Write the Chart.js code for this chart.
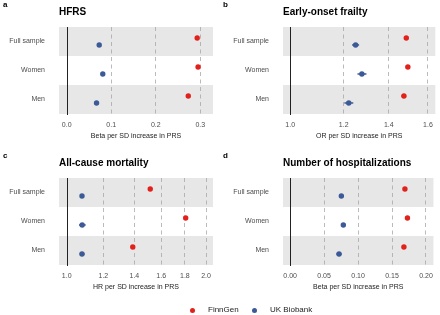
<!DOCTYPE html>
<html>
<head>
<meta charset="utf-8">
<script src="https://cdn.jsdelivr.net/npm/chart.js@4/dist/chart.umd.min.js"></script>
<style>
  body { margin: 0; width: 440px; height: 315px; background: #fff; position: relative; overflow: hidden;
         font-family: "Liberation Sans", Arial, sans-serif; }
  .panel { position: absolute; width: 220px; height: 151px; }
  #legend { position: absolute; left: 0; top: 0; width: 440px; height: 315px; will-change: transform; }
  .dot { position: absolute; width: 5px; height: 5px; border-radius: 50%; }
  .lbl { position: absolute; font-size: 8px; line-height: 10px; color: #222; }
</style>
</head>
<body>
<canvas id="panel-a" class="panel" width="220" height="151" style="left:0;top:0"></canvas>
<canvas id="panel-b" class="panel" width="220" height="151" style="left:220px;top:0"></canvas>
<canvas id="panel-c" class="panel" width="220" height="151" style="left:0;top:151px"></canvas>
<canvas id="panel-d" class="panel" width="220" height="151" style="left:220px;top:151px"></canvas>

<!-- 범례 -->
<div id="legend">
  <div class="dot" style="left:190px;top:307.5px;background:#e3211c"></div>
  <div class="lbl" style="left:208px;top:305px">FinnGen</div>
  <div class="dot" style="left:251.5px;top:307.5px;background:#3b5a97"></div>
  <div class="lbl" style="left:270px;top:305px">UK Biobank</div>
</div>

<script>
// 공통 데이터 ####################################################
const rows = ["Full sample", "Women", "Men"];

// a. HFRS
const hfrsFinn = [0.293, 0.295, 0.273];
const hfrsFinnLo = [0.289, 0.291, 0.269];
const hfrsFinnHi = [0.297, 0.299, 0.277];
const hfrsUkb = [0.073, 0.081, 0.067];
const hfrsUkbLo = [0.070, 0.078, 0.064];
const hfrsUkbHi = [0.076, 0.084, 0.070];
const hfrsTicks = [0, 0.1, 0.2, 0.3];

// b. Early-onset frailty
const frailFinn = [1.486, 1.494, 1.474];
const frailFinnLo = [1.475, 1.483, 1.462];
const frailFinnHi = [1.497, 1.505, 1.486];
const frailUkb = [1.25, 1.277, 1.221];
const frailUkbLo = [1.235, 1.258, 1.203];
const frailUkbHi = [1.265, 1.297, 1.24];
const frailTicks = [1.0, 1.2, 1.4, 1.6];

// c. All-cause mortality
const mortFinn = [1.515, 1.807, 1.389];
const mortFinnLo = [1.505, 1.795, 1.38];
const mortFinnHi = [1.525, 1.819, 1.398];
const mortUkb = [1.079, 1.08, 1.079];
const mortUkbLo = [1.073, 1.063, 1.066];
const mortUkbHi = [1.086, 1.099, 1.093];
const mortTicks = [1.0, 1.2, 1.4, 1.6, 1.8, 2.0];

// d. Number of hospitalizations
const hospFinn = [0.169, 0.1727, 0.1675];
const hospFinnLo = [0.166, 0.1697, 0.1645];
const hospFinnHi = [0.172, 0.1757, 0.1705];
const hospUkb = [0.0754, 0.0783, 0.072];
const hospUkbLo = [0.0724, 0.0753, 0.068];
const hospUkbHi = [0.0784, 0.0813, 0.076];
const hospTicks = [0, 0.05, 0.1, 0.15, 0.2];

const RED = "#e3211c";
const BLUE = "#3b5a97";
const BAND = "#e7e7e7";
const FONT = "'Liberation Sans', Arial, sans-serif";
const DODGE = 0.12; // 같은 행 안에서 두 코호트 간격

// 배경 띠, 제목, 기준선, 오차막대 ####################################
const panelPlugin = {
  id: "panel",
  beforeDraw(chart, args, opts) {
    const { ctx, chartArea } = chart;
    const ys = chart.scales.y;
    ctx.save();
    ctx.fillStyle = BAND;
    [0, 2].forEach((i) => {
      const top = ys.getPixelForValue(i - 0.5);
      const bottom = ys.getPixelForValue(i + 0.5);
      ctx.fillRect(chartArea.left, top, chartArea.right - chartArea.left, bottom - top);
    });
    ctx.fillStyle = "#000";
    ctx.textBaseline = "middle";
    ctx.textAlign = "left";
    ctx.font = `bold 10px ${FONT}`;
    ctx.fillText(opts.title, chartArea.left, 12.5);
    ctx.font = `bold 8px ${FONT}`;
    ctx.fillText(opts.letter, 3, 5);
    ctx.restore();
  },
  beforeDatasetsDraw(chart, args, opts) {
    const { ctx, chartArea } = chart;
    const xs = chart.scales.x;
    const ys = chart.scales.y;
    ctx.save();
    // 기준선 (0 또는 1)
    const rx = Math.round(xs.getPixelForValue(opts.ref)) + 0.5;
    ctx.strokeStyle = "#222";
    ctx.lineWidth = 1;
    ctx.beginPath();
    ctx.moveTo(rx, chartArea.top);
    ctx.lineTo(rx, chartArea.bottom + 1);
    ctx.stroke();
    // 신뢰구간
    ctx.lineWidth = 1.5;
    opts.bars.forEach((b) => {
      ctx.strokeStyle = b.color;
      rows.forEach((r, i) => {
        const y = ys.getPixelForValue(i + b.offset);
        ctx.beginPath();
        ctx.moveTo(xs.getPixelForValue(b.lo[i]), y);
        ctx.lineTo(xs.getPixelForValue(b.hi[i]), y);
        ctx.stroke();
      });
    });
    ctx.restore();
  },
};

function forestChart(id, cfg) {
  const data = {
    datasets: [
      {
        data: rows.map((r, i) => ({ x: cfg.finn[i], y: i - DODGE })),
        backgroundColor: RED,
      },
      {
        data: rows.map((r, i) => ({ x: cfg.ukb[i], y: i + DODGE })),
        backgroundColor: BLUE,
      },
    ],
  };

  const options = {
    responsive: false, // 크기를 고정으로
    animation: false,
    layout: { padding: { top: 27, right: cfg.padRight, left: 0, bottom: 0 } },
    elements: { point: { radius: 2.7, borderWidth: 0 } },
    scales: {
      x: {
        type: cfg.xType,
        min: cfg.xMin,
        max: cfg.xMax,
        afterBuildTicks(scale) {
          scale.ticks = cfg.ticks.map((v) => ({ value: v }));
        },
        afterFit(scale) {
          scale.height = 37;
        },
        ticks: {
          callback: (v) => Number(v).toFixed(cfg.digits),
          font: { size: 7, family: FONT },
          color: "#4d4d4d",
          padding: 7,
          autoSkip: false,
          maxRotation: 0,
        },
        grid: {
          color: (c) => (c.tick && Math.abs(c.tick.value - cfg.ref) < 1e-9 ? "transparent" : "#a8a8a8"),
          lineWidth: 0.8,
          drawTicks: false,
        },
        border: { display: false, dash: [4, 3.5] },
        title: {
          display: true,
          text: cfg.xTitle,
          font: { size: 7, family: FONT },
          color: "#222",
          padding: { top: 0, bottom: 11 },
        },
      },
      y: {
        type: "linear",
        reverse: true,
        min: -0.5,
        max: 2.5,
        afterBuildTicks(scale) {
          scale.ticks = rows.map((r, i) => ({ value: i }));
        },
        afterFit(scale) {
          scale.width = cfg.yWidth;
        },
        ticks: {
          callback: (v) => rows[v],
          font: { size: 7, family: FONT },
          color: "#4d4d4d",
          padding: 6,
        },
        grid: { display: false },
        border: { display: false },
      },
    },
    plugins: {
      legend: { display: false }, // 범례 숨기기
      tooltip: { enabled: false }, // 툴팁 숨기기
      panel: {
        title: cfg.title,
        letter: cfg.letter,
        ref: cfg.ref,
        bars: [
          { color: RED, lo: cfg.finnLo, hi: cfg.finnHi, offset: -DODGE },
          { color: BLUE, lo: cfg.ukbLo, hi: cfg.ukbHi, offset: DODGE },
        ],
      },
    },
  };

  new Chart(document.getElementById(id), {
    type: "scatter",
    data: data,
    options: options,
    plugins: [panelPlugin],
  });
}

// a. HFRS
forestChart("panel-a", {
  letter: "a", title: "HFRS", xTitle: "Beta per SD increase in PRS",
  xType: "linear", xMin: -0.0173, xMax: 0.3285, ticks: hfrsTicks, digits: 1, ref: 0,
  finn: hfrsFinn, finnLo: hfrsFinnLo, finnHi: hfrsFinnHi,
  ukb: hfrsUkb, ukbLo: hfrsUkbLo, ukbHi: hfrsUkbHi,
  yWidth: 59, padRight: 7,
});

// b. Early-onset frailty
forestChart("panel-b", {
  letter: "b", title: "Early-onset frailty", xTitle: "OR per SD increase in PRS",
  xType: "logarithmic", xMin: 0.9756, xMax: 1.641, ticks: frailTicks, digits: 1, ref: 1,
  finn: frailFinn, finnLo: frailFinnLo, finnHi: frailFinnHi,
  ukb: frailUkb, ukbLo: frailUkbLo, ukbHi: frailUkbHi,
  yWidth: 63, padRight: 3,
});

// c. All-cause mortality
forestChart("panel-c", {
  letter: "c", title: "All-cause mortality", xTitle: "HR per SD increase in PRS",
  xType: "logarithmic", xMin: 0.9624, xMax: 2.07, ticks: mortTicks, digits: 1, ref: 1,
  finn: mortFinn, finnLo: mortFinnLo, finnHi: mortFinnHi,
  ukb: mortUkb, ukbLo: mortUkbLo, ukbHi: mortUkbHi,
  yWidth: 59, padRight: 7,
});

// d. Number of hospitalizations
forestChart("panel-d", {
  letter: "d", title: "Number of hospitalizations", xTitle: "Beta per SD increase in PRS",
  xType: "linear", xMin: -0.0105, xMax: 0.211, ticks: hospTicks, digits: 2, ref: 0,
  finn: hospFinn, finnLo: hospFinnLo, finnHi: hospFinnHi,
  ukb: hospUkb, ukbLo: hospUkbLo, ukbHi: hospUkbHi,
  yWidth: 63, padRight: 3,
});
</script>
</body>
</html>
